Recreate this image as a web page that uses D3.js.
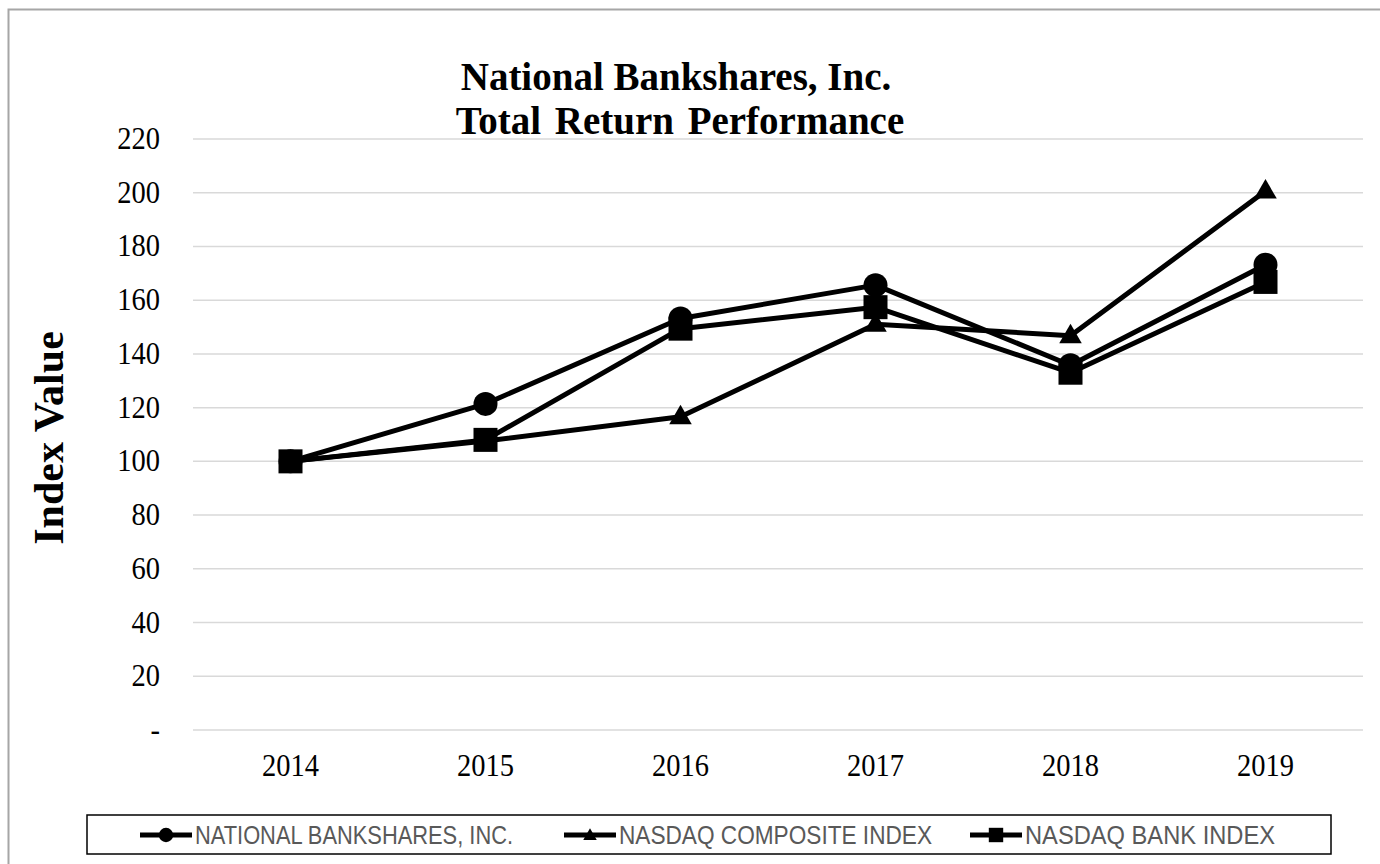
<!DOCTYPE html>
<html>
<head>
<meta charset="utf-8">
<script src="https://cdnjs.cloudflare.com/ajax/libs/d3/7.8.5/d3.min.js"></script>
<style>
  body { margin: 0; background: #fff; }
  svg { display: block; }
</style>
</head>
<body>
<svg id="chart" width="1380" height="864"></svg>
<script>
const years = ["2014", "2015", "2016", "2017", "2018", "2019"];
const national = [100, 121.4, 153.2, 165.6, 135.8, 173.2];
const composite = [100, 107.6, 116.6, 151.0, 146.8, 200.6];
const bank = [100, 108.0, 149.4, 157.4, 133.0, 166.8];
const yTicks = [0, 20, 40, 60, 80, 100, 120, 140, 160, 180, 200, 220];
const seriesNames = ["NATIONAL BANKSHARES, INC.", "NASDAQ COMPOSITE INDEX", "NASDAQ BANK INDEX"];

const SERIF = "'Liberation Serif', 'Times New Roman', serif";
const SQUEEZE = 0.89; // the source text is a little narrow

const svg = d3.select("#chart");

// outer frame
svg.append("rect")
    .attr("x", 8.5).attr("y", 9.5)
    .attr("width", 1400).attr("height", 900)
    .attr("fill", "none")
    .attr("stroke", "#a6a6a6")
    .attr("stroke-width", 2);

const plot = { left: 193, right: 1363, top: 139, bottom: 730 };

var x = d3.scaleBand()
    .domain(years)
    .range([plot.left, plot.right]);

var y = d3.scaleLinear()
    .domain([0, 220])
    .range([plot.bottom, plot.top]);

// gridlines
svg.append("g")
    .selectAll("line")
    .data(yTicks)
    .enter()
    .append("line")
        .attr("x1", plot.left).attr("x2", plot.right)
        .attr("y1", d => y(d)).attr("y2", d => y(d))
        .attr("stroke", "#d9d9d9")
        .attr("stroke-width", 1.5);

// y tick labels
svg.append("g")
    .selectAll("text")
    .data(yTicks)
    .enter()
    .append("text")
        .attr("transform", d => "translate(160," + (y(d) + 10) + ") scale(" + SQUEEZE + ",1)")
        .attr("text-anchor", "end")
        .style("font-family", SERIF)
        .style("font-size", "32px")
        .text(d => d === 0 ? "-" : d);

// x tick labels
svg.append("g")
    .selectAll("text")
    .data(years)
    .enter()
    .append("text")
        .attr("transform", d => "translate(" + (x(d) + x.bandwidth() / 2) + ",776) scale(" + SQUEEZE + ",1)")
        .attr("text-anchor", "middle")
        .style("font-family", SERIF)
        .style("font-size", "32px")
        .text(d => d);

// title, two lines
svg.append("text")
    .attr("x", 676).attr("y", 90)
    .attr("text-anchor", "middle")
    .style("font-family", SERIF)
    .style("font-size", "39px")
    .style("font-weight", "bold")
    .text("National Bankshares, Inc.");
svg.append("text")
    .attr("x", 680).attr("y", 134)
    .attr("text-anchor", "middle")
    .style("font-family", SERIF)
    .style("font-size", "39px")
    .style("font-weight", "bold")
    .style("word-spacing", "4px")
    .text("Total Return Performance");

// y axis title
svg.append("text")
    .attr("transform", "translate(63,438) rotate(-90)")
    .attr("text-anchor", "middle")
    .style("font-family", SERIF)
    .style("font-size", "42px")
    .style("font-weight", "bold")
    .text("Index Value");

const cx = (d, i) => x(years[i]) + x.bandwidth() / 2;

const line = d3.line()
    .x((d, i) => cx(d, i))
    .y(d => y(d));

function drawMarker(g, kind, px, py, scale) {
    if (kind === "circle") {
        g.append("circle")
            .attr("cx", px).attr("cy", py)
            .attr("r", 12 * scale)
            .attr("fill", "#000");
    } else if (kind === "square") {
        var s = 24 * scale;
        g.append("rect")
            .attr("x", px - s / 2).attr("y", py - s / 2)
            .attr("width", s).attr("height", s)
            .attr("fill", "#000");
    } else {
        g.append("path")
            .attr("d", d3.symbol().type(d3.symbolTriangle).size(220 * scale * scale)())
            .attr("transform", "translate(" + px + "," + (py + 1) + ")")
            .attr("fill", "#000");
    }
}

const series = [
    { values: national, kind: "circle" },
    { values: composite, kind: "triangle" },
    { values: bank, kind: "square" },
];

// lines first, then markers
series.forEach(function (s) {
    svg.append("path")
        .datum(s.values)
        .attr("d", line)
        .attr("fill", "none")
        .attr("stroke", "#000")
        .attr("stroke-width", 5)
        .attr("stroke-linejoin", "round");
});

series.forEach(function (s) {
    var g = svg.append("g");
    s.values.forEach((v, i) => drawMarker(g, s.kind, cx(v, i), y(v), 1));
});

// legend
svg.append("rect")
    .attr("x", 87).attr("y", 815)
    .attr("width", 1244).attr("height", 39)
    .attr("fill", "#fff")
    .attr("stroke", "#000")
    .attr("stroke-width", 1.5);

const legendX = [140, 564, 970];
const legendW = [318, 313, 250];
series.forEach(function (s, i) {
    var g = svg.append("g");
    g.append("line")
        .attr("x1", legendX[i]).attr("x2", legendX[i] + 52)
        .attr("y1", 835).attr("y2", 835)
        .attr("stroke", "#000")
        .attr("stroke-width", 5);
    drawMarker(g, s.kind, legendX[i] + 26, 835, 0.6);
    g.append("text")
        .attr("x", legendX[i] + 55)
        .attr("y", 844)
        .attr("textLength", legendW[i])
        .attr("lengthAdjust", "spacingAndGlyphs")
        .style("font-family", "'Liberation Sans', Arial, sans-serif")
        .style("font-size", "25px")
        .attr("fill", "#595959")
        .text(seriesNames[i]);
});
</script>
</body>
</html>
